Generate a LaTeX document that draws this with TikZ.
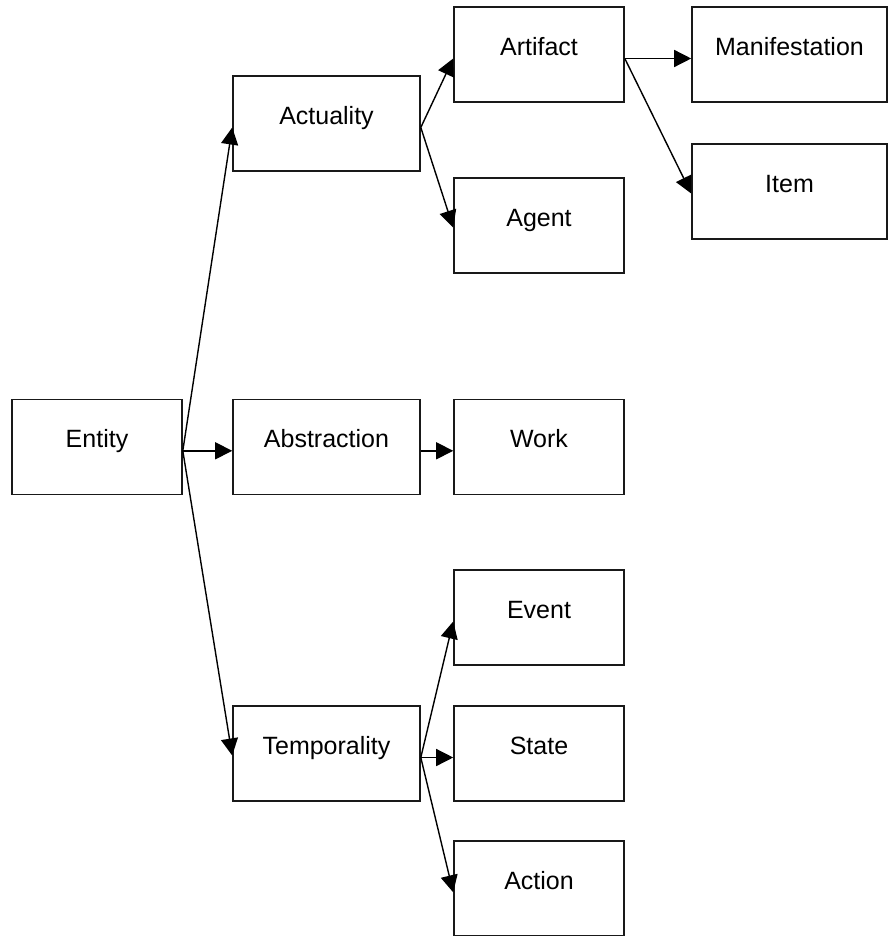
\documentclass[tikz,border=0pt]{standalone}
\usepackage{fontspec}
\setmainfont{Liberation Sans}
\usetikzlibrary{arrows.meta}
\begin{document}
\begin{tikzpicture}[x=1pt,y=-1pt,
  box/.style={draw=black!90, line width=1.6pt, fill=white, rectangle,
    minimum height=95pt, inner sep=0pt,
    font=\fontsize{25}{30}\selectfont, text height=12pt, text depth=10pt},
  narrow/.style={box, minimum width=170pt},
  wide/.style={box, minimum width=187pt},
  widest/.style={box, minimum width=195pt},
  link/.style={line width=1.4pt, -{Triangle[length=17pt,width=17pt]}}]
\useasboundingbox (0,0) rectangle (888,936);

% column 1
\node[narrow] (entity) at (97,446.8) {Entity};
% column 2
\node[wide] (actuality)   at (326.5,123.5) {Actuality};
\node[wide] (abstraction) at (326.5,446.8) {Abstraction};
\node[wide] (temporality) at (326.5,753.5) {Temporality};
% column 3
\node[narrow] (artifact) at (539,54.5)  {Artifact};
\node[narrow] (agent)    at (539,225.5) {Agent};
\node[narrow] (work)     at (539,446.8) {Work};
\node[narrow] (event)    at (539,617.5) {Event};
\node[narrow] (state)    at (539,753.5) {State};
\node[narrow] (action)   at (539,888.3) {Action};
% column 4
\node[widest] (manifestation) at (789.5,54.5)  {Manifestation};
\node[widest] (item)          at (789.5,191.5) {Item};

% connectors attach slightly below the box middles
\draw[link] ([yshift=-4pt]entity.east) -- ([yshift=-4pt]actuality.west);
\draw[link] ([yshift=-4pt]entity.east) -- ([yshift=-4pt]abstraction.west);
\draw[link] ([yshift=-4pt]entity.east) -- ([yshift=-2pt]temporality.west);

\draw[link] ([yshift=-4pt]actuality.east) -- ([yshift=-4pt]artifact.west);
\draw[link] ([yshift=-4pt]actuality.east) -- ([yshift=-2pt]agent.west);

\draw[link] ([yshift=-4pt]artifact.east) -- ([yshift=-4pt]manifestation.west);
\draw[link] ([yshift=-4pt]artifact.east) -- ([yshift=-2pt]item.west);

\draw[link] ([yshift=-4pt]abstraction.east) -- ([yshift=-4pt]work.west);

\draw[link] ([yshift=-4pt]temporality.east) -- ([yshift=-4pt]event.west);
\draw[link] ([yshift=-4pt]temporality.east) -- ([yshift=-4pt]state.west);
\draw[link] ([yshift=-4pt]temporality.east) -- ([yshift=-4pt]action.west);
\end{tikzpicture}
\end{document}
